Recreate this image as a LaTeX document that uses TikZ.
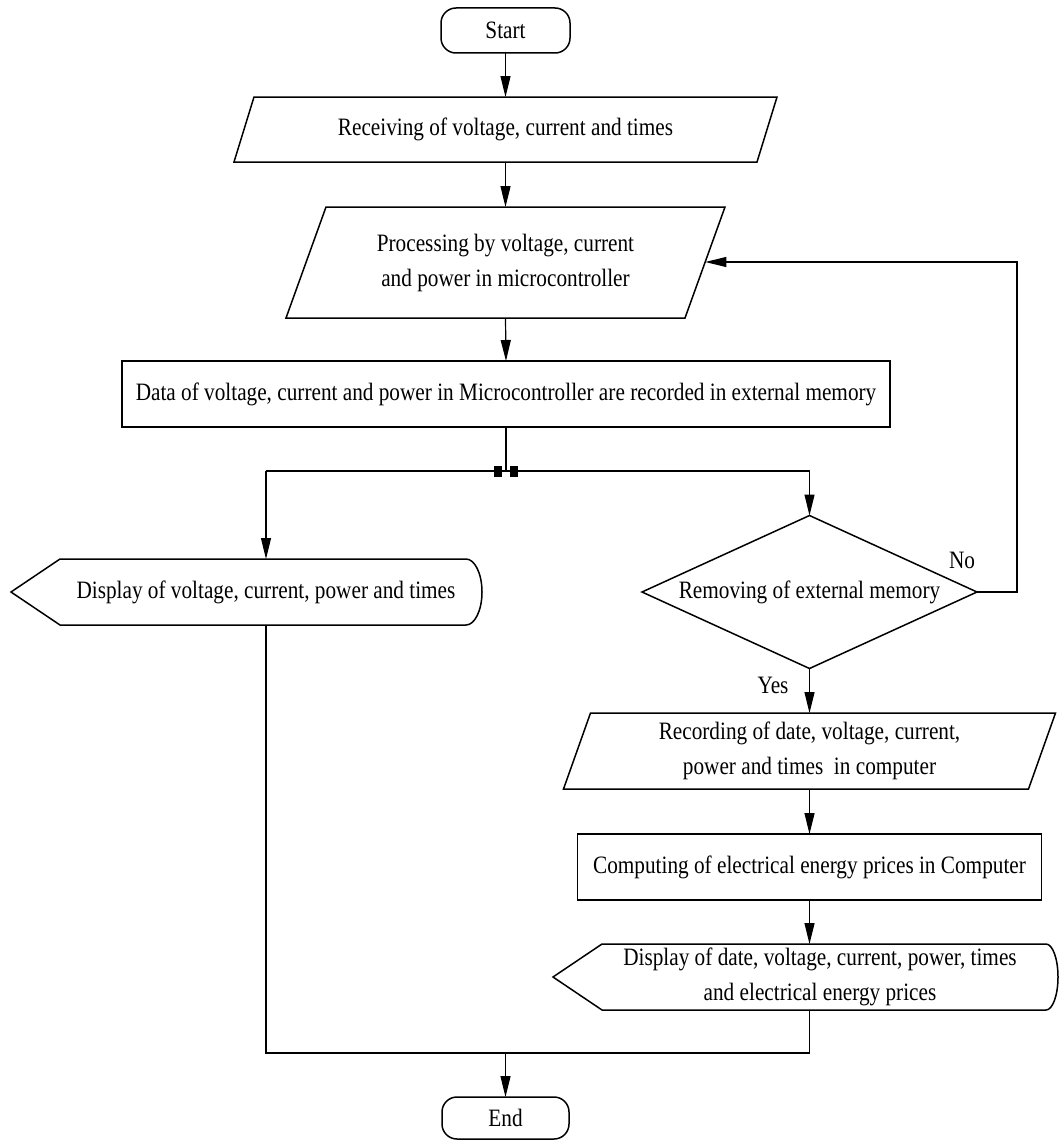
\documentclass[tikz,border=0pt]{standalone}
\usepackage{fontspec}
\setmainfont{Liberation Serif}[FakeStretch=0.85]
\usetikzlibrary{arrows.meta}
\begin{document}
\begin{tikzpicture}[x=1pt,y=-1pt,
  box/.style={inner sep=0pt, outer sep=0pt, align=center, font=\fontsize{25}{35}\selectfont},
  outline/.style={draw=black, line width=1.5pt, line join=miter},
  conn/.style={draw=black, line width=1.2pt},
  arr/.style={conn, -{Triangle[length=21pt,width=10pt]}},
  lbl/.style={font=\fontsize{25}{30}\selectfont, inner sep=0pt},
  sq/.style={fill=black, inner sep=0pt, minimum width=8pt, minimum height=11pt}]
\useasboundingbox (0,0) rectangle (1059,1140);

% Start
\node[box, minimum width=129pt, minimum height=45pt] (start) at (505.5,30.5) {Start};
\draw[outline, rounded corners=15pt] (start.north west) rectangle (start.south east);

% Receiving
\node[box, minimum width=543pt, minimum height=65pt] (recv) at (505.5,129.5) {Receiving of voltage, current and times};
\draw[outline] ([xshift=20pt]recv.north west) -- (recv.north east) -- ([xshift=-20pt]recv.south east) -- (recv.south west) -- cycle;

% Processing
\node[box, minimum width=439pt, minimum height=111pt] (proc) at (505.5,262.5) {Processing by voltage, current\\and power in microcontroller};
\draw[outline] ([xshift=40pt]proc.north west) -- (proc.north east) -- ([xshift=-40pt]proc.south east) -- (proc.south west) -- cycle;

% Data
\node[box, minimum width=768pt, minimum height=66pt] (data) at (506,394) {Data of voltage, current and power in Microcontroller are recorded in external memory};
\draw[outline] (data.north west) rectangle (data.south east);

% Fork
\coordinate (fork) at (506,471);
\coordinate (forkL) at (266,471);
\coordinate (forkR) at (809.5,471);
\node[sq] (sq1) at (498,471) {};
\node[sq] (sq2) at (514,471) {};

% Display 1
\node[box, minimum width=471pt, minimum height=66pt] (d1) at (246.5,592) {};
\draw[outline] ([xshift=49pt]d1.north west) -- ([xshift=-16pt]d1.north east)
  arc[start angle=90, end angle=-90, x radius=16pt, y radius=33pt]
  -- ([xshift=49pt]d1.south west) -- (d1.west) -- cycle;
\node[box] (d1t) at (266,592) {Display of voltage, current, power and times};

% Decision
\node[box, minimum width=335pt, minimum height=153pt] (dia) at (809.5,592) {Removing of external memory};
\draw[outline] (dia.north) -- (dia.east) -- (dia.south) -- (dia.west) -- cycle;
\node[lbl] (no) at (962,560) {No};
\node[lbl] (yes) at (773,685) {Yes};

% Recording
\node[box, minimum width=492pt, minimum height=76pt] (rec) at (809.5,751) {Recording of date, voltage, current,\\power and times\ \ in computer};
\draw[outline] ([xshift=27pt]rec.north west) -- (rec.north east) -- ([xshift=-27pt]rec.south east) -- (rec.south west) -- cycle;

% Computing
\node[box, minimum width=464pt, minimum height=66pt] (comp) at (809.5,867) {Computing of electrical energy prices in Computer};
\draw[outline] (comp.north west) rectangle (comp.south east);

% Display 2
\node[box, minimum width=505pt, minimum height=66pt] (d2) at (805.5,977) {};
\draw[outline] ([xshift=49pt]d2.north west) -- ([xshift=-12pt]d2.north east)
  arc[start angle=90, end angle=-90, x radius=12pt, y radius=33pt]
  -- ([xshift=49pt]d2.south west) -- (d2.west) -- cycle;
\node[box] (d2t) at (820,977) {Display of date, voltage, current, power, times\\and electrical energy prices};

% End
\node[box, minimum width=127pt, minimum height=42pt] (end) at (505.5,1118) {End};
\draw[outline, rounded corners=15pt] (end.north west) rectangle (end.south east);

% Merge
\coordinate (mL) at (266,1053);
\coordinate (mR) at (809.5,1053);
\coordinate (mC) at (505.5,1053);
\coordinate (loopTop) at (1017,262);
\coordinate (procR) at (705.3,262);

% Connectors
\draw[arr] (start.south) -- (recv.north);
\draw[arr] (recv.south) -- (proc.north);
\draw[arr] (proc.south) -- (data.north);
\draw[conn] (data.south) -- (fork);
\draw[conn] (forkL) -- (forkR);
\draw[arr] (forkL) -- (forkL |- d1.north);
\draw[arr] (forkR) -- (dia.north);
\draw[arr] (dia.east) -| (loopTop) -- (procR);
\draw[arr] (dia.south) -- (rec.north);
\draw[arr] (rec.south) -- (comp.north);
\draw[arr] (comp.south) -- (comp.south |- d2.north);
\draw[conn] (forkL |- d1.south) -- (mL) -- (mR) -- (comp.south |- d2.south);
\draw[arr] (mC) -- (end.north);
\end{tikzpicture}
\end{document}
